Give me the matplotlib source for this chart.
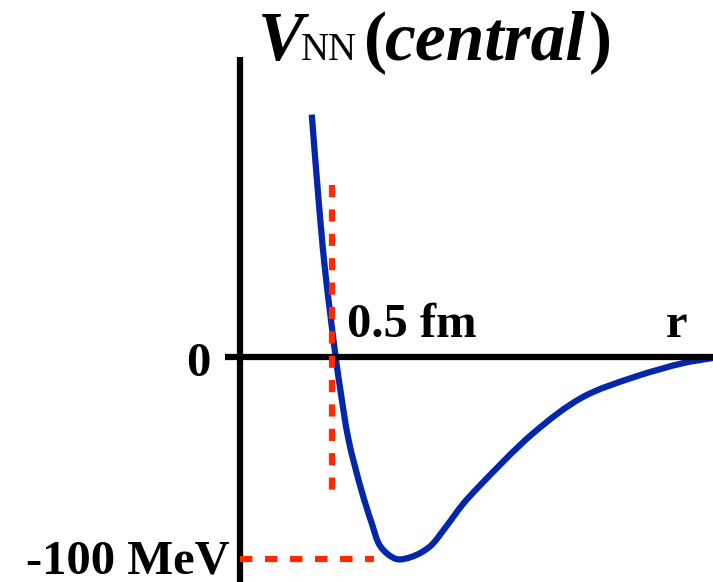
import matplotlib.pyplot as plt
from matplotlib.path import Path
from matplotlib.patches import PathPatch
import numpy as np

# curve: r in fm, V in MeV
r_fm = [0.39, 0.425, 0.46, 0.52, 0.545, 0.59, 0.66, 0.715, 0.765, 0.85,
        0.93, 1.03, 1.12, 1.21, 1.30, 1.59, 1.86, 2.14, 2.41, 2.57]
v_mev = [120, 80, 45, 0, -16, -41, -66, -82, -94, -100,
         -99, -94, -84, -73, -64, -38, -20, -10, -3, -0.5]

r_core = 0.5        # fm, red vertical marker
v_core = [85, -67]  # its extent
v_depth = -100      # MeV, red horizontal marker
r_depth = [0, 0.73]

W, H = 713, 582
fig = plt.figure(figsize=(W / 100, H / 100), dpi=100)
ax = fig.add_axes([0, 0, 1, 1])

# pixel frame: r=0 at x=240, 184 px per fm; V=0 at y=357, 2.02 px per MeV
x0, sx = 240, 184
y0, sy = 357, 2.02
ax.set_xlim(-x0 / sx, (W - x0) / sx)
ax.set_ylim(-(H - y0) / sy, y0 / sy)
ax.axis('off')

blue = '#0327a8'
red = '#ff2a00'
lw = 4.5

ax.axvline(0, ymin=0, ymax=(H - 57) / H, color='black', lw=lw, solid_capstyle='butt')
ax.axhline(0, xmin=225 / W, xmax=1, color='black', lw=lw, solid_capstyle='butt')

ax.plot([r_core, r_core], v_core, color=red, lw=lw, dashes=(1.95, 1.95))
ax.plot(r_depth, [v_depth, v_depth], color=red, lw=lw, dashes=(2.0, 2.0))


def smooth_path(xs, ys):
    # centripetal Catmull-Rom through the points (in pixel units),
    # drawn as cubic Bezier pieces
    scale = np.array([sx, sy])
    p = np.column_stack([xs, ys]).astype(float) * scale
    ext = np.vstack([2 * p[0] - p[1], p, 2 * p[-1] - p[-2]])
    d = np.sqrt(np.linalg.norm(np.diff(ext, axis=0), axis=1))
    verts, codes = [p[0]], [Path.MOVETO]
    for i in range(1, len(ext) - 2):
        p0, p1, p2, p3 = ext[i - 1:i + 3]
        d0, d1, d2 = d[i - 1:i + 2]
        t1 = (p1 - p0) / d0 - (p2 - p0) / (d0 + d1) + (p2 - p1) / d1
        t2 = (p2 - p1) / d1 - (p3 - p1) / (d1 + d2) + (p3 - p2) / d2
        verts += [p1 + t1 * d1 / 3, p2 - t2 * d1 / 3, p2]
        codes += [Path.CURVE4] * 3
    return Path(np.array(verts) / scale, codes)


ax.add_patch(PathPatch(smooth_path(r_fm, v_mev), fill=False, edgecolor=blue,
                       lw=lw, capstyle='butt'))

serif = 'Liberation Serif'


def put(x, y, s, size, **kw):
    fig.text(x / W, 1 - y / H, s, fontsize=size, family=serif,
             va='baseline', **kw)


# title
put(258, 60, 'V', 50, weight='bold', style='italic')
put(301, 60, 'NN', 28)
put(364, 60, '(', 50, weight='bold')
put(385, 60, 'central', 50, weight='bold', style='italic')
put(612, 60, ')', 50, weight='bold', ha='right')

# labels
put(210, 376, '0', 35, weight='bold', ha='right')
put(230, 573, '-100 MeV', 35, weight='bold', ha='right')
put(347, 337, '0.5 fm', 35, weight='bold')
put(666, 337, 'r', 35, weight='bold')

fig.savefig('out.png', dpi=100)
